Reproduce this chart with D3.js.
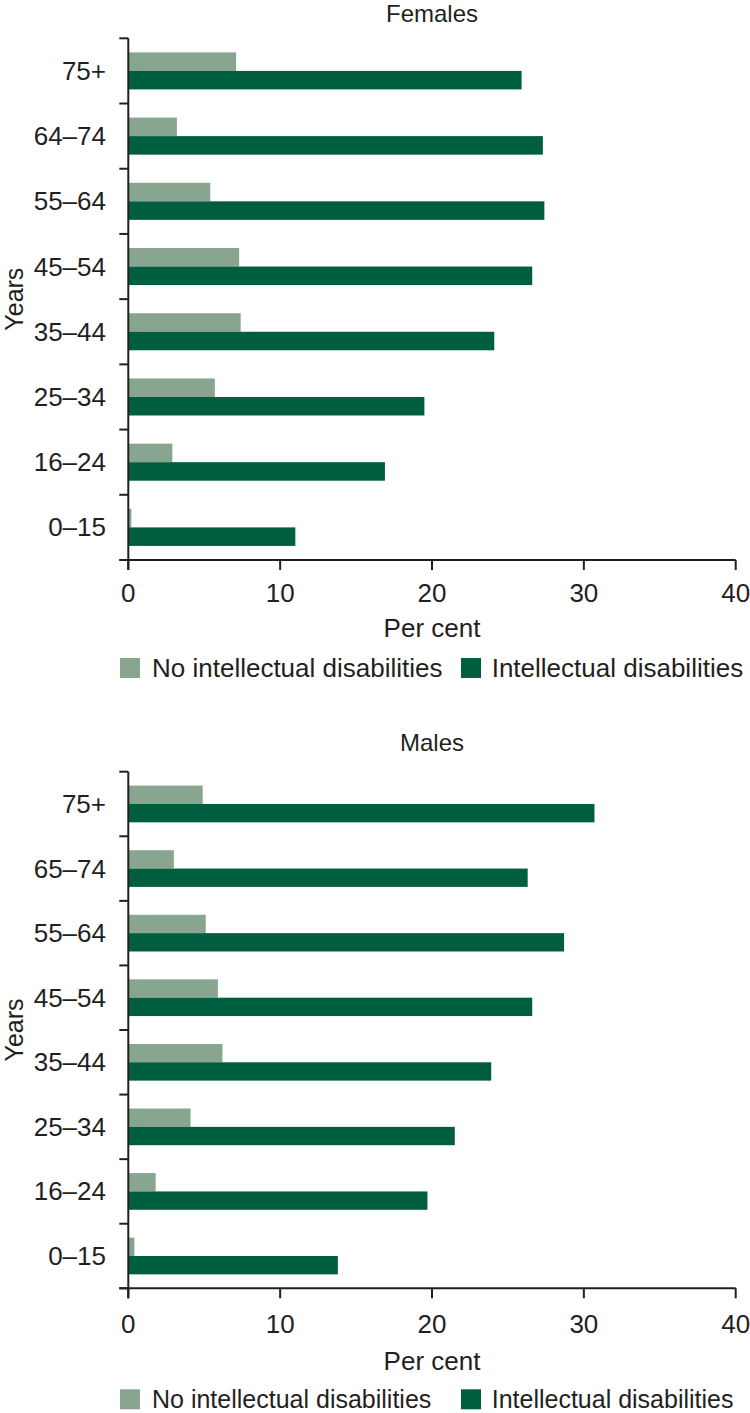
<!DOCTYPE html>
<html><head><meta charset="utf-8">
<script src="https://cdn.jsdelivr.net/npm/d3@7"></script>
<style>
html,body{margin:0;padding:0;background:#fff;}
svg{display:block;}
text{font-family:"Liberation Sans",Arial,sans-serif;fill:#231f20;}
</style></head>
<body>
<svg id="chart" width="750" height="1413"></svg>
<script>
const categories = ["75+","64\u201374","55\u201364","45\u201354","35\u201344","25\u201334","16\u201324","0\u201315"];
const categoriesMales = ["75+","65\u201374","55\u201364","45\u201354","35\u201344","25\u201334","16\u201324","0\u201315"];
const seriesNames = ["No intellectual disabilities","Intellectual disabilities"];
const femalesNoID = [7.1,3.2,5.4,7.3,7.4,5.7,2.9,0.2];
const femalesID = [25.9,27.3,27.4,26.6,24.1,19.5,16.9,11.0];
const malesNoID = [4.9,3.0,5.1,5.9,6.2,4.1,1.8,0.4];
const malesID = [30.7,26.3,28.7,26.6,23.9,21.5,19.7,13.8];
const xTicks = [0,10,20,30,40];
const colors = ["#88a590","#005e40"];

const svg = d3.select("#chart");
const FS = 26;
const x = d3.scaleLinear().domain([0,40]).range([128.3,735.7]);

function panel(title, cats, a, b, top, bottom, titleBase, offs){
  const g = svg.append("g");
  const y = d3.scaleBand().domain(cats).range([top,bottom]).paddingInner(0.432).paddingOuter(0.216);
  const ys = d3.scaleBand().domain(seriesNames).range([0,y.bandwidth()]);
  const rows = cats.map((c,i)=>({cat:c, vals:[a[i],b[i]]}));
  const rg = g.selectAll("g.row").data(rows).join("g").attr("transform",d=>`translate(0,${y(d.cat)})`);
  rg.selectAll("rect").data(d=>d.vals.map((v,j)=>({v,s:seriesNames[j],j}))).join("rect")
    .attr("x",x(0)).attr("y",d=>ys(d.s)).attr("height",ys.bandwidth())
    .attr("width",d=>x(d.v)-x(0)).attr("fill",d=>colors[d.j]);
  const step = y.step();
  const bounds = d3.range(cats.length+1).map(i=>top+i*step);
  g.append("line").attr("x1",x(0)).attr("x2",x(0)).attr("y1",top).attr("y2",bottom+10)
    .attr("stroke","#231f20").attr("stroke-width",2);
  g.selectAll("line.yt").data(bounds).join("line").attr("class","yt")
    .attr("x1",x(0)-9).attr("x2",x(0)).attr("y1",d=>d).attr("y2",d=>d)
    .attr("stroke","#231f20").attr("stroke-width",2);
  g.append("line").attr("x1",x(0)-9).attr("x2",x(40)).attr("y1",bottom).attr("y2",bottom)
    .attr("stroke","#231f20").attr("stroke-width",2);
  g.selectAll("line.xt").data(xTicks).join("line").attr("class","xt")
    .attr("x1",d=>x(d)).attr("x2",d=>x(d)).attr("y1",bottom).attr("y2",bottom+10)
    .attr("stroke","#231f20").attr("stroke-width",2);
  g.selectAll("text.xl").data(xTicks).join("text").attr("class","xl")
    .attr("x",d=>x(d)).attr("y",bottom+offs.tick).attr("text-anchor","middle")
    .attr("dominant-baseline","central").attr("font-size",FS).text(d=>d);
  g.selectAll("text.yl").data(cats).join("text").attr("class","yl")
    .attr("x",106).attr("y",d=>y(d)+y.bandwidth()/2).attr("text-anchor","end")
    .attr("dominant-baseline","central").attr("font-size",FS).text(d=>d);
  g.append("text").attr("x",432).attr("y",titleBase).attr("text-anchor","middle")
    .attr("font-size",24).text(title);
  g.append("text").attr("x",432).attr("y",bottom+offs.label).attr("text-anchor","middle")
    .attr("dominant-baseline","central").attr("font-size",FS).text("Per cent");
  g.append("text").attr("transform",`translate(14,${(top+bottom)/2}) rotate(-90)`)
    .attr("text-anchor","middle").attr("dominant-baseline","central").attr("font-size",25).text("Years");
  const ly = bottom+offs.legend;
  const legX = [{sq:120,tx:152},{sq:461,tx:491.7}];
  const lg = g.selectAll("g.leg").data(seriesNames).join("g").attr("class","leg");
  lg.append("rect").attr("x",(d,i)=>legX[i].sq).attr("y",ly-10).attr("width",20).attr("height",20)
    .attr("fill",(d,i)=>colors[i]);
  lg.append("text").attr("x",(d,i)=>legX[i].tx).attr("y",ly).attr("dominant-baseline","central")
    .attr("font-size",offs.legFS).text(d=>d);
}

panel("Females", categories, femalesNoID, femalesID, 38.3, 560, 22, {tick:33,label:68,legend:108,legFS:26});
panel("Males", categoriesMales, malesNoID, malesID, 771.7, 1288.3, 750.7, {tick:36,label:73,legend:111,legFS:25});
</script>
</body></html>
